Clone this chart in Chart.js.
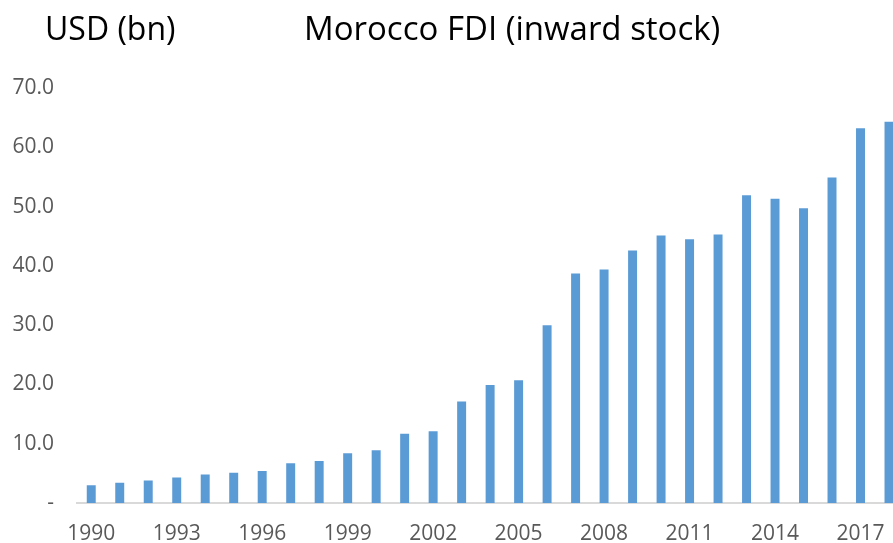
<!DOCTYPE html>
<html>
<head>
<meta charset="utf-8">
<script src="https://cdn.jsdelivr.net/npm/chart.js@4.4.1/dist/chart.umd.min.js"></script>
<style>
  html, body { margin: 0; padding: 0; overflow: hidden; background: #fff; }
  #wrap { width: 907px; height: 543px; }
</style>
</head>
<body>
<div id="wrap"><canvas id="fdi"></canvas></div>
<script>
// Morocco FDI inward stock, USD bn
var years = [];
for (var y = 1990; y <= 2018; y++) { years.push(String(y)); }

var stock = [3.0, 3.4, 3.8, 4.3, 4.8, 5.1, 5.4, 6.7, 7.1, 8.4,
             8.9, 11.7, 12.1, 17.1, 19.9, 20.7, 30.0, 38.7, 39.4, 42.6,
             45.1, 44.5, 45.3, 51.9, 51.3, 49.7, 54.9, 63.2, 64.3];

var yTicks = [0, 10, 20, 30, 40, 50, 60, 70];

var unitLabel = "USD (bn)";
var titleText = "Morocco FDI (inward stock)";

/* draws the two header texts */
var headerText = {
  id: 'headerText',
  afterDraw: function(chart) {
    var ctx = chart.ctx;
    ctx.save();
    ctx.fillStyle = '#000000';
    ctx.textBaseline = 'alphabetic';
    ctx.textAlign = 'left';
    ctx.font = '32px "Open Sans"';
    ctx.fillText(unitLabel, 45, 40);
    ctx.font = '33px "Open Sans"';
    ctx.fillText(titleText, 304, 40);
    ctx.restore();
  }
};

var ctx = document.getElementById("fdi");
var chart = new Chart(ctx, {
  type: 'bar',
  data: {
    labels: years,
    datasets: [{
      data: stock,
      backgroundColor: '#5B9BD5',
      borderWidth: 0,
      categoryPercentage: 1.0,
      barPercentage: 0.315
    }]
  },
  options: {
    responsive: true,
    maintainAspectRatio: false,
    animation: false,
    layout: { padding: { top: 88, right: 0, left: 0, bottom: 0 } },
    plugins: {
      legend: { display: false },
      tooltip: { enabled: false }
    },
    scales: {
      x: {
        grid: { display: false, drawTicks: false },
        border: { display: true, color: '#d9d9d9', width: 2 },
        afterFit: function(scale) { scale.height = 40; },
        ticks: {
          autoSkip: false,
          maxRotation: 0,
          padding: 18,
          color: '#595959',
          font: { family: '"Open Sans"', size: 21 },
          callback: function(val, i) { return i % 3 === 0 ? years[i] : ''; }
        }
      },
      y: {
        min: 0,
        max: 70,
        grid: { display: false, drawTicks: false },
        border: { display: false },
        afterFit: function(scale) { scale.width = 77; },
        afterBuildTicks: function(scale) {
          scale.ticks = yTicks.map(function(v) { return { value: v }; });
        },
        ticks: {
          padding: 23,
          color: '#595959',
          font: { family: '"Open Sans"', size: 21 },
          callback: function(v) { return v === 0 ? '-' : v.toFixed(1); }
        }
      }
    }
  },
  plugins: [headerText]
});
</script>
</body>
</html>
